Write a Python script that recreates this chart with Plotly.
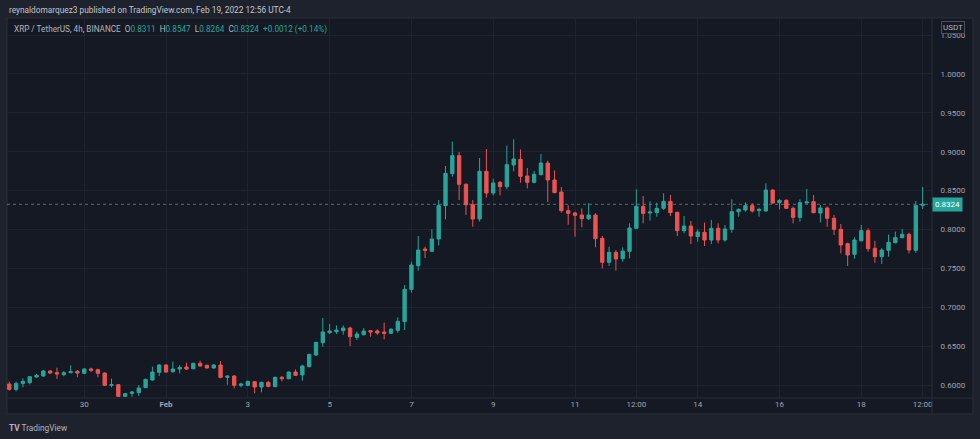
import pandas as pd
import plotly.graph_objects as go

# 4h candles, XRP / USDT (Binance)
opens = [0.6013, 0.5944, 0.6021, 0.6030, 0.6103, 0.6116, 0.6180, 0.6159, 0.6133, 0.6159,
         0.6176, 0.6150, 0.6206, 0.6197, 0.6154, 0.5996, 0.6004, 0.5854, 0.5893, 0.5901,
         0.5966, 0.6064, 0.6163, 0.6257, 0.6171, 0.6206, 0.6232, 0.6210, 0.6279, 0.6253,
         0.6219, 0.6257, 0.6099, 0.6116, 0.5996, 0.5996, 0.6043, 0.5974, 0.6034, 0.5979,
         0.6099, 0.6081, 0.6167, 0.6129, 0.6236, 0.6386, 0.6544, 0.6673, 0.6686, 0.6699,
         0.6733, 0.6613, 0.6647, 0.6699, 0.6695, 0.6682, 0.6665, 0.6703, 0.6815, 0.7230,
         0.7535, 0.7749, 0.7719, 0.7878, 0.8307, 0.8718, 0.8950, 0.8581, 0.8319, 0.8135,
         0.8748, 0.8469, 0.8607, 0.8551, 0.8830, 0.8902, 0.8688, 0.8607, 0.8705, 0.8855,
         0.8637, 0.8482, 0.8242, 0.8212, 0.8186, 0.8139, 0.8186, 0.7886, 0.7578, 0.7706,
         0.7625, 0.7719, 0.8015, 0.8298, 0.8212, 0.8217, 0.8272, 0.8362, 0.8221, 0.7985,
         0.8045, 0.7908, 0.7964, 0.7865, 0.8015, 0.7865, 0.8002, 0.8229, 0.8251, 0.8307,
         0.8242, 0.8238, 0.8508, 0.8345, 0.8375, 0.8272, 0.8156, 0.8341, 0.8358, 0.8212,
         0.8277, 0.8144, 0.8002, 0.7818, 0.7681, 0.7856, 0.7985, 0.7758, 0.7651, 0.7732,
         0.7831, 0.7895, 0.7938, 0.7732, 0.8311]
highs = [0.6043, 0.6043, 0.6086, 0.6116, 0.6142, 0.6193, 0.6193, 0.6223, 0.6180, 0.6253,
         0.6193, 0.6214, 0.6223, 0.6210, 0.6163, 0.6081, 0.6013, 0.5897, 0.5923, 0.6000,
         0.6081, 0.6236, 0.6270, 0.6266, 0.6300, 0.6253, 0.6287, 0.6287, 0.6313, 0.6262,
         0.6266, 0.6309, 0.6124, 0.6129, 0.6030, 0.6056, 0.6047, 0.6043, 0.6051, 0.6107,
         0.6116, 0.6176, 0.6201, 0.6260, 0.6403, 0.6553, 0.6862, 0.6785, 0.6767, 0.6767,
         0.6750, 0.6686, 0.6733, 0.6707, 0.6716, 0.6802, 0.6733, 0.6870, 0.7286, 0.7586,
         0.7916, 0.7779, 0.8002, 0.8379, 0.8817, 0.9130, 0.8997, 0.8594, 0.8379, 0.8920,
         0.9035, 0.8654, 0.8624, 0.9078, 0.9160, 0.9031, 0.8791, 0.8752, 0.8971, 0.8885,
         0.8761, 0.8547, 0.8311, 0.8229, 0.8272, 0.8337, 0.8208, 0.7916, 0.7779, 0.7736,
         0.7771, 0.8079, 0.8517, 0.8431, 0.8362, 0.8345, 0.8465, 0.8444, 0.8229, 0.8174,
         0.8109, 0.8002, 0.8088, 0.8122, 0.8079, 0.8058, 0.8388, 0.8272, 0.8349, 0.8337,
         0.8281, 0.8594, 0.8517, 0.8388, 0.8388, 0.8294, 0.8388, 0.8521, 0.8444, 0.8315,
         0.8294, 0.8186, 0.8071, 0.7831, 0.7899, 0.8058, 0.8015, 0.7856, 0.7758, 0.7934,
         0.7972, 0.8006, 0.7959, 0.8367, 0.8547]
lows = [0.5927, 0.5919, 0.5970, 0.6009, 0.6094, 0.6107, 0.6142, 0.6077, 0.6112, 0.6150,
        0.6099, 0.6142, 0.6167, 0.6099, 0.5987, 0.5970, 0.5850, 0.5850, 0.5850, 0.5859,
        0.5961, 0.6056, 0.6116, 0.6159, 0.6159, 0.6150, 0.6193, 0.6201, 0.6236, 0.6210,
        0.6210, 0.6086, 0.6004, 0.5957, 0.5970, 0.5987, 0.5893, 0.5906, 0.5970, 0.5970,
        0.6047, 0.6073, 0.6116, 0.6056, 0.6227, 0.6373, 0.6493, 0.6656, 0.6656, 0.6647,
        0.6502, 0.6579, 0.6639, 0.6622, 0.6647, 0.6587, 0.6656, 0.6673, 0.6707, 0.7188,
        0.7471, 0.7633, 0.7711, 0.7796, 0.8131, 0.8680, 0.8379, 0.8187, 0.8036, 0.8101,
        0.8409, 0.8439, 0.8439, 0.8517, 0.8748, 0.8602, 0.8529, 0.8594, 0.8697, 0.8354,
        0.8465, 0.8217, 0.8062, 0.7908, 0.8028, 0.8122, 0.7771, 0.7501, 0.7531, 0.7471,
        0.7586, 0.7629, 0.8015, 0.8079, 0.8114, 0.8165, 0.8251, 0.8174, 0.7916, 0.7951,
        0.7813, 0.7844, 0.7788, 0.7813, 0.7822, 0.7844, 0.7959, 0.8165, 0.8229, 0.8217,
        0.8165, 0.8229, 0.8328, 0.8259, 0.8264, 0.8079, 0.8101, 0.8336, 0.8208, 0.8092,
        0.8036, 0.7929, 0.7693, 0.7531, 0.7625, 0.7844, 0.7715, 0.7573, 0.7556, 0.7651,
        0.7822, 0.7886, 0.7693, 0.7702, 0.8264]
closes = [0.5944, 0.6021, 0.6047, 0.6107, 0.6124, 0.6180, 0.6154, 0.6142, 0.6159, 0.6172,
          0.6154, 0.6206, 0.6189, 0.6150, 0.5996, 0.6004, 0.5854, 0.5889, 0.5910, 0.5961,
          0.6073, 0.6167, 0.6257, 0.6167, 0.6206, 0.6227, 0.6206, 0.6279, 0.6244, 0.6219,
          0.6257, 0.6099, 0.6116, 0.5996, 0.6013, 0.6047, 0.5974, 0.6034, 0.5983, 0.6099,
          0.6081, 0.6167, 0.6124, 0.6244, 0.6394, 0.6549, 0.6682, 0.6695, 0.6707, 0.6733,
          0.6622, 0.6656, 0.6695, 0.6682, 0.6669, 0.6665, 0.6716, 0.6819, 0.7230, 0.7543,
          0.7736, 0.7732, 0.7878, 0.8307, 0.8722, 0.8950, 0.8581, 0.8319, 0.8135, 0.8748,
          0.8469, 0.8598, 0.8551, 0.8834, 0.8907, 0.8684, 0.8607, 0.8710, 0.8855, 0.8637,
          0.8474, 0.8242, 0.8208, 0.8182, 0.8139, 0.8186, 0.7882, 0.7578, 0.7706, 0.7621,
          0.7723, 0.8019, 0.8298, 0.8208, 0.8225, 0.8272, 0.8362, 0.8217, 0.7985, 0.8045,
          0.7916, 0.7968, 0.7865, 0.8015, 0.7865, 0.8006, 0.8229, 0.8259, 0.8307, 0.8238,
          0.8259, 0.8508, 0.8341, 0.8375, 0.8272, 0.8156, 0.8345, 0.8354, 0.8217, 0.8277,
          0.8144, 0.8002, 0.7801, 0.7672, 0.7865, 0.7985, 0.7753, 0.7651, 0.7736, 0.7835,
          0.7895, 0.7938, 0.7736, 0.8307, 0.8324]

times = pd.date_range("2022-01-28 04:00", periods=len(closes), freq="4h")

tick_dates = ["2022-01-30", "2022-02-01", "2022-02-03", "2022-02-05", "2022-02-07",
              "2022-02-09", "2022-02-11", "2022-02-12 12:00", "2022-02-14",
              "2022-02-16", "2022-02-18", "2022-02-19 12:00"]
tick_text = ["30", "<b>Feb</b>", "3", "5", "7", "9", "11", "12:00", "14", "16", "18", "12:00"]
price_ticks = [0.60, 0.65, 0.70, 0.75, 0.80, 0.85, 0.90, 0.95, 1.00, 1.05]

last_price = 0.8324

UP = "#26a69a"
DOWN = "#ef5350"
OUTER = "#1e222d"
PANEL = "#151924"
GRID = "#1f2330"
BORDER = "#2a2e39"
TXT = "#a3a6af"
FONT = "Roboto"

fig = go.Figure()
fig.add_trace(go.Candlestick(
    x=times, open=opens, high=highs, low=lows, close=closes,
    increasing=dict(line=dict(color=UP, width=1), fillcolor=UP),
    decreasing=dict(line=dict(color=DOWN, width=1), fillcolor=DOWN),
    whiskerwidth=0, hoverinfo="skip", showlegend=False,
))

# last price line
fig.add_hline(y=last_price, line=dict(color="rgba(130,134,146,0.7)", width=1, dash="dot"))

# panel and separators
fig.add_shape(type="rect", xref="paper", yref="paper", x0=0, x1=1.0443, y0=-0.0421, y1=1,
              fillcolor=PANEL, line=dict(color=BORDER, width=1), layer="below")
fig.add_shape(type="line", xref="paper", yref="paper", x0=1, x1=1, y0=-0.0421, y1=1,
              line=dict(color=BORDER, width=1))
fig.add_shape(type="line", xref="paper", yref="paper", x0=0, x1=1.0443, y0=0, y1=0,
              line=dict(color=BORDER, width=1))

ann = []
ann.append(dict(xref="paper", yref="paper", x=0, y=1.021, xanchor="left", yanchor="middle",
                text="reynaldomarquez3 published on TradingView.com, Feb 19, 2022 12:56 UTC-4",
                font=dict(color="#c3c6ce", size=8.3, family=FONT), showarrow=False))
legend = ("XRP / TetherUS, 4h, BINANCE&nbsp;&nbsp;"
          f"O<span style='color:{UP}'>0.8311</span>&nbsp; "
          f"H<span style='color:{UP}'>0.8547</span>&nbsp; "
          f"L<span style='color:{UP}'>0.8264</span>&nbsp; "
          f"C<span style='color:{UP}'>0.8324</span>&nbsp; "
          f"<span style='color:{UP}'>+0.0012 (+0.14%)</span>")
ann.append(dict(xref="paper", yref="paper", x=0.0054, y=0.971, xanchor="left", yanchor="middle",
                text=legend, font=dict(color="#b2b5be", size=8.2, family=FONT), showarrow=False))
ann.append(dict(xref="paper", yref="paper", x=1.0227, y=0.9737, xanchor="center", yanchor="middle",
                text="USDT", font=dict(color="#b2b5be", size=8, family=FONT), showarrow=False,
                bgcolor=PANEL, bordercolor="#4a4e59", borderwidth=1, borderpad=1))
ann.append(dict(xref="paper", yref="y", x=1.0, y=last_price, xanchor="left", yanchor="middle",
                text=f"{last_price:.4f}", font=dict(color="#ffffff", size=8, family=FONT),
                showarrow=False, bgcolor=UP, borderpad=2))
ann.append(dict(xref="paper", yref="paper", x=0, y=-0.079, xanchor="left", yanchor="middle",
                text="<b>TV</b> TradingView", font=dict(color="#b2b5be", size=8.3, family=FONT),
                showarrow=False))

fig.update_layout(
    width=980, height=439,
    margin=dict(l=7, r=48, t=18, b=41),
    paper_bgcolor=OUTER, plot_bgcolor=PANEL,
    annotations=ann,
    font=dict(family=FONT, color=TXT, size=8),
    xaxis=dict(range=["2022-01-28 02:40", "2022-02-19 17:30"], rangeslider=dict(visible=False),
               tickvals=tick_dates, ticktext=tick_text, showgrid=True, gridcolor=GRID,
               zeroline=False, showline=False, ticks="", tickfont=dict(color=TXT, size=8)),
    yaxis=dict(side="right", range=[0.5833, 1.0720], tickvals=price_ticks,
               tickformat=".4f", showgrid=True, gridcolor=GRID, zeroline=False,
               ticks="outside", ticklen=6, tickcolor="rgba(0,0,0,0)",
               tickfont=dict(color=TXT, size=8)),
)

# the page itself: no default body margin, so the figure sits at the window corner
fig.write_html("out.html", config={"displayModeBar": False},
               post_script="document.body.style.margin='0';"
               f"document.body.style.background='{OUTER}';")
